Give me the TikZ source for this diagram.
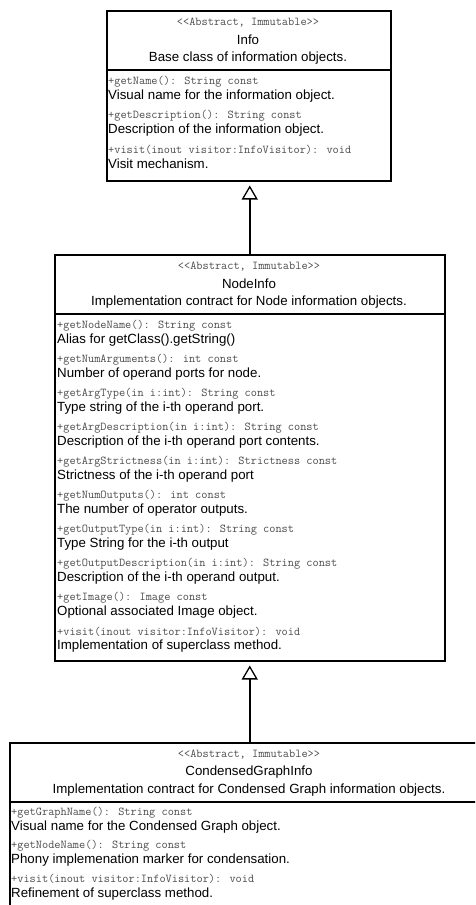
\documentclass[tikz,border=0pt]{standalone}
\usepackage{fontspec}
\setmainfont{Liberation Sans}
\usetikzlibrary{arrows.meta}
\definecolor{codegray}{HTML}{4D4D4D}
\tikzset{
  classbox/.style={draw=black, line width=1.5pt, fill=white, inner sep=0pt, anchor=north west},
  sepline/.style={draw=black, line width=1.5pt},
  stereo/.style={font=\ttfamily\fontsize{12}{13}\selectfont, text=codegray, inner sep=0pt},
  cname/.style={font=\fontsize{13.3}{15}\selectfont, inner sep=0pt},
  cdesc/.style={font=\fontsize{13.3}{15}\selectfont, inner sep=0pt},
  sig/.style={font=\ttfamily\fontsize{12}{13}\selectfont, text=codegray, inner sep=0pt, anchor=west},
  note/.style={font=\fontsize{13.3}{15}\selectfont, inner sep=0pt, anchor=west},
  inherit/.style={draw=black, line width=1.5pt, -{Triangle[open, length=14pt, width=16pt, line width=1.3pt]}, shorten >=4pt}
}
\begin{document}
\begin{tikzpicture}[x=1pt, y=-1pt]
\useasboundingbox (0,0) rectangle (475,905);
\clip (0,0) rectangle (475,905);

% ---- Info ----
\node[classbox, minimum width=284pt, minimum height=170pt] (info) at (106,10) {};
\draw[sepline] (106,70) -- (390,70);
\node[stereo] (infoS) at (248,23) {<<Abstract, Immutable>>};
\node[cname]  (infoN) at (248,40) {Info};
\node[cdesc]  (infoD) at (248,58) {Base class of information objects.};
\node[sig]  (i1s) at (108,82)  {+getName(): String const};
\node[note] (i1d) at (108,96)  {Visual name for the information object.};
\node[sig]  (i2s) at (108,116) {+getDescription(): String const};
\node[note] (i2d) at (108,130) {Description of the information object.};
\node[sig]  (i3s) at (108,150) {+visit(inout visitor:InfoVisitor): void};
\node[note] (i3d) at (108,164) {Visit mechanism.};

% ---- NodeInfo ----
\node[classbox, minimum width=390pt, minimum height=406pt] (nodeinfo) at (54,254) {};
\draw[sepline] (54,314) -- (444,314);
\node[stereo] (niS) at (249,267) {<<Abstract, Immutable>>};
\node[cname]  (niN) at (249,284) {NodeInfo};
\node[cdesc]  (niD) at (249,302) {Implementation contract for Node information objects.};
\node[sig]  (n1s)  at (57,326) {+getNodeName(): String const};
\node[note] (n1d)  at (57,340) {Alias for getClass().getString()};
\node[sig]  (n2s)  at (57,360) {+getNumArguments(): int const};
\node[note] (n2d)  at (57,374) {Number of operand ports for node.};
\node[sig]  (n3s)  at (57,394) {+getArgType(in i:int): String const};
\node[note] (n3d)  at (57,408) {Type string of the i-th operand port.};
\node[sig]  (n4s)  at (57,428) {+getArgDescription(in i:int): String const};
\node[note] (n4d)  at (57,442) {Description of the i-th operand port contents.};
\node[sig]  (n5s)  at (57,462) {+getArgStrictness(in i:int): Strictness const};
\node[note] (n5d)  at (57,476) {Strictness of the i-th operand port};
\node[sig]  (n6s)  at (57,496) {+getNumOutputs(): int const};
\node[note] (n6d)  at (57,510) {The number of operator outputs.};
\node[sig]  (n7s)  at (57,530) {+getOutputType(in i:int): String const};
\node[note] (n7d)  at (57,544) {Type String for the i-th output};
\node[sig]  (n8s)  at (57,564) {+getOutputDescription(in i:int): String const};
\node[note] (n8d)  at (57,578) {Description of the i-th operand output.};
\node[sig]  (n9s)  at (57,598) {+getImage(): Image const};
\node[note] (n9d)  at (57,612) {Optional associated Image object.};
\node[sig]  (n10s) at (57,632) {+visit(inout visitor:InfoVisitor): void};
\node[note] (n10d) at (57,646) {Implementation of superclass method.};

% ---- CondensedGraphInfo ----
\node[classbox, minimum width=480pt, minimum height=200pt] (cgi) at (9,742) {};
\draw[sepline] (9,802) -- (489,802);
\node[stereo] (cgS) at (249,755) {<<Abstract, Immutable>>};
\node[cname]  (cgN) at (249,772) {CondensedGraphInfo};
\node[cdesc]  (cgD) at (249,790) {Implementation contract for Condensed Graph information objects.};
\node[sig]  (c1s) at (11,813) {+getGraphName(): String const};
\node[note] (c1d) at (11,827) {Visual name for the Condensed Graph object.};
\node[sig]  (c2s) at (11,846) {+getNodeName(): String const};
\node[note] (c2d) at (11,860) {Phony implemenation marker for condensation.};
\node[sig]  (c3s) at (11,879) {+visit(inout visitor:InfoVisitor): void};
\node[note] (c3d) at (11,894) {Refinement of superclass method.};

% ---- generalisations ----
\draw[inherit] (nodeinfo.north) -- (nodeinfo.north |- info.south);
\draw[inherit] (cgi.north -| nodeinfo.north) -- (nodeinfo.south);
\end{tikzpicture}
\end{document}
